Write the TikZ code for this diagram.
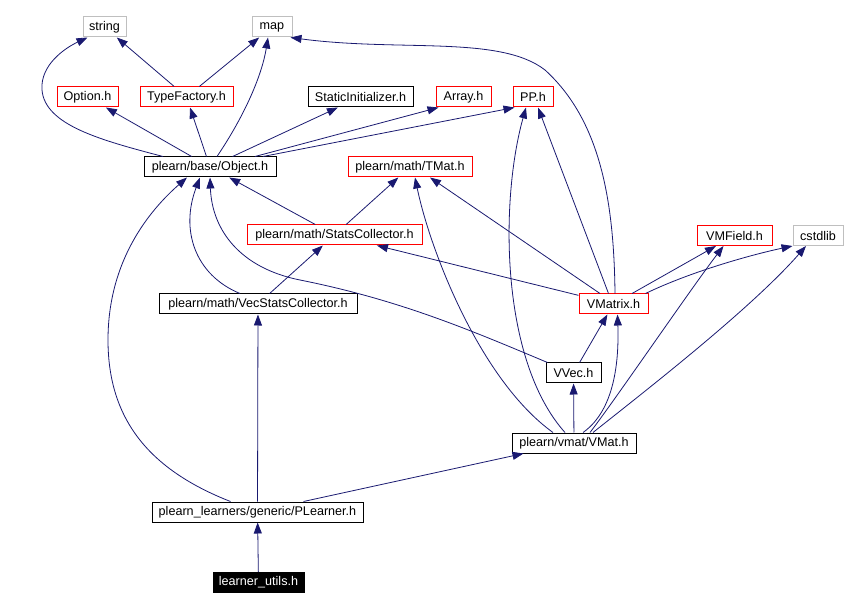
\documentclass[tikz,border=0pt]{standalone}
\usepackage{fontspec}
\setmainfont{Liberation Sans}
\usetikzlibrary{arrows.meta,calc}
\definecolor{edgeblue}{HTML}{191970}
\definecolor{hred}{HTML}{FF0000}
\definecolor{hgray}{HTML}{BFBFBF}
\tikzset{
  hbox/.style={rectangle, draw=black, fill=white, line width=1pt, inner xsep=2pt, inner ysep=0pt,
               minimum height=20pt, font=\fontsize{12.6}{15}\selectfont},
  redbox/.style={hbox, draw=hred},
  sysbox/.style={hbox, draw=hgray},
  rootbox/.style={hbox, fill=black, text=white},
  dep/.style={-{Triangle[length=11pt, width=8pt]}, draw=edgeblue, line width=0.8pt}
}

\begin{document}
\begin{tikzpicture}[x=1pt, y=-1pt]
  \useasboundingbox (0,0) rectangle (846,609);
  \node[sysbox, minimum width=43pt] (string) at (104.5,27) {string};
  \node[sysbox, minimum width=40pt] (map) at (272,27) {map};
  \node[redbox, minimum width=61pt] (option) at (87.5,97) {Option.h};
  \node[redbox, minimum width=93pt] (typefactory) at (186.5,97) {TypeFactory.h};
  \node[hbox, minimum width=105pt] (staticinit) at (360.5,97) {StaticInitializer.h};
  \node[redbox, minimum width=55pt] (array) at (463.5,97) {Array.h};
  \node[redbox, minimum width=40pt] (pp) at (533,97) {PP.h};
  \node[hbox, minimum width=132pt] (object) at (210,167) {plearn/base/Object.h};
  \node[redbox, minimum width=124pt] (tmat) at (410,167) {plearn/math/TMat.h};
  \node[redbox, minimum width=175pt] (stats) at (334.5,235) {plearn/math/StatsCollector.h};
  \node[hbox, minimum width=198pt] (vecstats) at (258,304) {plearn/math/VecStatsCollector.h};
  \node[redbox, minimum width=75pt] (vmfield) at (734.5,235.5) {VMField.h};
  \node[sysbox, minimum width=50pt] (cstdlib) at (818,235.5) {cstdlib};
  \node[redbox, minimum width=69pt] (vmatrix) at (613.5,304) {VMatrix.h};
  \node[hbox, minimum width=55pt] (vvec) at (573.5,373) {VVec.h};
  \node[hbox, minimum width=124pt] (vmat) at (574,443) {plearn/vmat/VMat.h};
  \node[hbox, minimum width=211pt] (plearner) at (257.5,512) {plearn\_learners/generic/PLearner.h};
  \node[rootbox, minimum width=91pt] (utils) at (258.5,582.5) {learner\_utils.h};

  \draw[dep] ($(object.north)+(-47,0)$) .. controls (100,140) and (45,125) .. (42,90)
             .. controls (40,65) and (65,48) .. ($(string.south)+(-17,0)$);
  \draw[dep] (typefactory) -- (string);
  \draw[dep] (typefactory) -- (map);
  \draw[dep] ($(object.north)+(7,0)$) .. controls (245,115) and (262,75) .. ($(map.south)+(-4,0)$);
  \draw[dep] ($(vmatrix.north)+(1.5,0)$) .. controls (614,200) and (600,120) .. (545,70)
             .. controls (500,35) and (400,52) .. ($(map.south east)+(-2,0)$);
  \draw[dep] (object) -- (option);
  \draw[dep] (object) -- (typefactory);
  \draw[dep] (object) -- (staticinit);
  \draw[dep] ($(object.north)+(45,0)$) -- ($(array.south west)+(3,0)$);
  \draw[dep] ($(object.north)+(53,0)$) -- ($(pp.south west)+(2,0)$);
  \draw[dep] (stats) -- (object);
  \draw[dep] (stats) -- (tmat);
  \draw[dep] ($(vecstats.north)+(-18,0)$) .. controls (195,275) and (180,230) .. ($(object.south)+(-10,0)$);
  \draw[dep] (vecstats) -- (stats);
  \draw[dep] ($(vvec.north west)+(2,0)$) .. controls (470,330) and (400,300) .. (300,280)
             .. controls (240,268) and (212,230) .. (object.south);
  \draw[dep] ($(plearner.north)+(-27,0)$) .. controls (150,470) and (108,420) .. (108,340)
             .. controls (108,260) and (150,210) .. ($(object.south)+(-23,0)$);
  \draw[dep] (plearner) -- (vecstats);
  \draw[dep] ($(plearner.north)+(46,0)$) -- ($(vmat.south west)+(12,0)$);
  \draw[dep] (utils) -- (plearner);
  \draw[dep] ($(vmatrix.north)+(-13.5,0)$) -- ($(tmat.south)+(20,0)$);
  \draw[dep] ($(vmatrix.north)+(-5,0)$) -- ($(pp.south)+(5,0)$);
  \draw[dep] (vmatrix) -- (stats);
  \draw[dep] (vmatrix) -- (vmfield);
  \draw[dep] ($(vmatrix.north east)+(-3,0)$) .. controls (690,272) and (750,255) .. (cstdlib.south west);
  \draw[dep] (vvec) -- (vmatrix);
  \draw[dep] (vmat) -- (vvec);
  \draw[dep] ($(vmat.north)+(9,0)$) .. controls (615,410) and (619,360) .. ($(vmatrix.south)+(4,0)$);
  \draw[dep] ($(vmat.north)+(16,0)$) .. controls (615,400) and (690,290) .. ($(vmfield.south)+(-11,0)$);
  \draw[dep] ($(vmat.north)+(19,0)$) .. controls (640,395) and (750,310) .. ($(cstdlib.south)+(-12,0)$);
  \draw[dep] ($(vmat.north)+(-21,0)$) .. controls (480,380) and (430,250) .. ($(tmat.south)+(5,0)$);
  \draw[dep] ($(vmat.north)+(-9,0)$) .. controls (500,360) and (500,200) .. ($(pp.south)+(-7,0)$);
\end{tikzpicture}
\end{document}
